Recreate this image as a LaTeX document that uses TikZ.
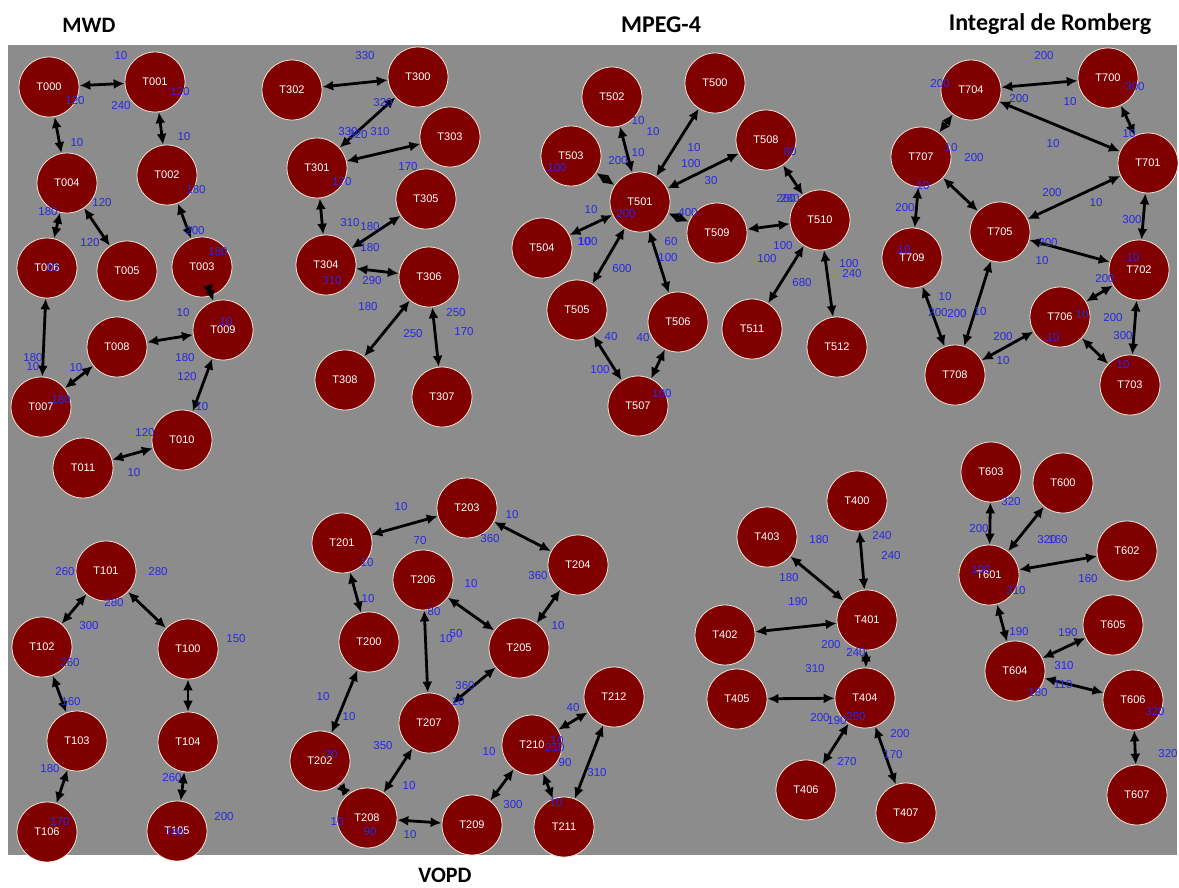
\documentclass[tikz,border=0pt]{standalone}
\usepackage{fontspec}
\setmainfont{Liberation Sans}
\newfontfamily\titlefont{Carlito}
\usetikzlibrary{arrows.meta}
\definecolor{bggray}{RGB}{140,140,140}
\definecolor{taskred}{RGB}{128,0,0}
\definecolor{taskrim}{RGB}{240,228,214}
\definecolor{lblblue}{RGB}{40,40,230}
\tikzset{
  task/.style={circle,fill=taskred,draw=taskrim,line width=0.8pt,minimum size=60pt,inner sep=0pt,text=white,font=\fontsize{11}{12}\selectfont},
  conn/.style={{Latex[length=11pt,width=10pt]}-{Latex[length=11pt,width=10pt]},line width=2.8pt,black},
  lbl/.style={text=lblblue,inner sep=0pt,font=\fontsize{11.5}{13}\selectfont},
  ttl/.style={inner sep=0pt,font=\titlefont\bfseries\fontsize{#1}{#1}\selectfont}
}
\begin{document}
\begin{tikzpicture}[x=1pt,y=-1pt]
\useasboundingbox (0,0) rectangle (1179,887);
\fill[white] (0,0) rectangle (1179,887);
\fill[bggray] (8,45) rectangle (1177,855);
% titles
\node[ttl=22] (tMWD) at (89,25) {MWD};
\node[ttl=24] (tMPEG) at (661,25) {MPEG-4};
\node[ttl=24] (tROM) at (1050,24) {Integral de Romberg};
\node[ttl=22] (tVOPD) at (445,875) {VOPD};
% tasks
\foreach \n/\x/\y in {
 T000/49/87, T001/155/82, T004/67/183, T002/167/175, T006/47/268, T005/127/271, T003/202/267,
 T009/223/330, T008/117/347, T007/41/407, T010/182/440, T011/83/468,
 T302/292/90, T300/418/77, T303/450/137, T301/317/168, T305/426/199, T304/326/265, T306/429/277, T308/345/380, T307/442/397,
 T502/612/97, T500/715/83, T508/766/140, T503/571/156, T501/640/202, T510/820/220, T509/717/233,
 T504/542/248, T505/577/310, T506/678/322, T511/752/329, T512/837/347, T507/638/406,
 T704/971/90, T700/1108/78, T707/921/157, T701/1148/163, T705/1000/232, T709/912/258, T702/1139/270, T706/1060/317, T708/955/375, T703/1130/385,
 T101/106/571, T102/42/647, T100/188/649, T103/77/741, T104/188/742, T106/47/832, T105/177/831,
 T203/467/508, T201/342/543, T204/578/565, T206/423/580, T200/369/642, T205/519/648, T212/614/697, T207/429/723, T210/532/745, T202/320/761, T208/367/818, T209/472/825, T211/564/827,
 T400/857/501, T403/767/537, T401/867/620, T402/725/635, T405/737/699, T404/865/698, T406/806/790, T407/906/813,
 T603/991/472, T600/1063/483, T602/1127/551, T601/989/575, T605/1113/625, T604/1015/671, T606/1133/700, T607/1137/795}
 \node[task] (\n) at (\x,\y) {\n};
% connectors
\foreach \a/\b in {
 T000/T001, T000/T004, T001/T002, T004/T006, T004/T005, T002/T003, T003/T009, T006/T007, T007/T008, T008/T009, T009/T010, T010/T011,
 T302/T300, T300/T301, T301/T303, T301/T304, T304/T305, T304/T306, T306/T308, T306/T307,
 T501/T502, T501/T500, T501/T508, T501/T503, T501/T504, T501/T505, T501/T506, T501/T509, T508/T510, T509/T510, T510/T511, T510/T512, T505/T507, T506/T507,
 T704/T700, T704/T701, T704/T707, T700/T701, T707/T709, T707/T705, T701/T705, T701/T702, T705/T702, T705/T708, T709/T708, T708/T706, T706/T702, T706/T703, T702/T703,
 T101/T102, T101/T100, T102/T103, T100/T104, T103/T106, T104/T105,
 T201/T203, T203/T204, T201/T200, T206/T205, T204/T205, T206/T207, T205/T207, T200/T202, T202/T208, T207/T208, T208/T209, T209/T210, T210/T212, T210/T211, T212/T211,
 T400/T401, T403/T401, T402/T401, T401/T404, T405/T404, T404/T406, T404/T407,
 T603/T601, T600/T601, T602/T601, T601/T604, T605/T604, T606/T604, T606/T607}
 \draw[conn] (\a) -- (\b);
% labels
\foreach \x/\y/\t [count=\i] in {
 121/56/10, 75/101/120, 121/106/240, 180/92/120, 77/143/10, 184/137/10, 196/190/180, 102/203/120, 48/212/180, 90/243/120,
 195/231/200, 218/252/180, 52/268/10, 183/313/10, 226/322/10, 33/358/180, 33/367/10, 76/368/10, 185/358/180, 187/377/120,
 61/400/180, 202/407/10, 145/433/120, 134/473/10,
 365/56/330, 383/103/320, 348/132/330, 358/135/320, 380/132/310, 342/182/170, 408/167/170, 350/223/310, 370/227/180, 370/248/180,
 332/281/310, 372/281/290, 368/307/180, 456/313/250, 464/332/170, 413/334/250,
 638/121/10, 653/132/10, 638/153/10, 618/161/200, 694/148/10, 691/164/100, 711/181/30, 790/152/80, 557/168/100, 786/199/260, 790/199/280,
 591/210/10, 626/214/200, 688/213/400, 588/242/100, 584/242/10, 671/242/60, 668/258/100, 622/269/600, 783/246/100, 767/259/100,
 849/264/100, 852/274/240, 802/283/680, 611/337/40, 643/338/40, 600/370/100, 662/394/100,
 1044/56/200, 940/84/200, 1019/99/200, 1070/102/10, 1135/87/300, 1129/134/10, 1053/144/10, 951/148/10, 974/158/200, 923/186/10,
 1052/193/200, 1096/203/10, 905/208/200, 1132/220/300, 904/250/10, 1048/243/200, 1042/261/10, 1133/258/10, 1105/279/200, 945/297/10,
 938/313/200, 957/314/200, 980/312/10, 1082/315/10, 1113/318/200, 1003/337/200, 1053/338/10, 1123/336/300, 1003/361/10, 1123/365/10,
 65/572/260, 158/572/280, 114/603/280, 89/626/300, 236/639/150, 70/663/260, 71/702/160, 50/769/180, 172/778/260, 224/817/200, 60/822/170, 175/833/180,
 401/507/10, 512/515/10, 420/541/70, 490/539/360, 367/563/10, 471/584/10, 538/576/360, 368/599/10, 434/612/80, 558/626/10,
 446/639/10, 456/634/50, 465/686/360, 458/702/10, 323/697/10, 349/717/10, 573/708/40, 383/746/350, 489/752/10, 557/741/10,
 555/748/210, 565/763/90, 331/755/20, 597/773/310, 409/786/10, 513/805/300, 556/803/10, 337/822/10, 370/832/90, 410/835/10,
 819/540/180, 882/536/240, 891/556/240, 789/578/180, 798/602/190, 831/645/200, 856/653/240, 815/669/310, 820/718/200, 837/721/190,
 856/717/250, 900/734/200, 893/755/170, 847/762/270,
 1011/502/320, 979/529/200, 1047/540/320, 1058/540/160, 981/570/190, 1016/591/310, 1088/579/160, 1019/632/190, 1068/633/190, 1064/666/310,
 1038/693/180, 1063/685/110, 1155/712/320, 1168/754/320}
 \node[lbl] (L\i) at (\x,\y) {\t};
\end{tikzpicture}
\end{document}
